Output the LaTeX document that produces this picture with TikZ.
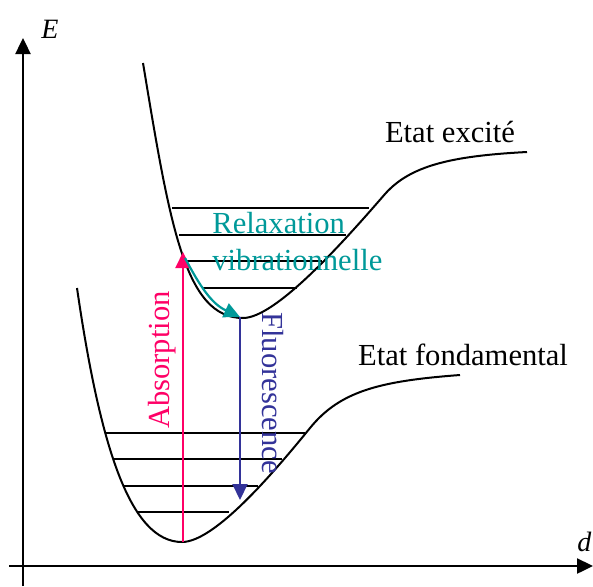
\documentclass[tikz,border=0pt]{standalone}
\usepackage{fontspec}
\setmainfont{Liberation Serif}
\usetikzlibrary{arrows.meta}
\definecolor{absorbcol}{HTML}{FF0066}
\definecolor{fluocol}{HTML}{333399}
\definecolor{relaxcol}{HTML}{009999}
\newcommand{\excitedwell}{\draw[line width=1pt] (143,523) .. controls (170,360) and (185,268) .. (243,268) .. controls (275,268) and (340,340) .. (385,392) .. controls (410,420) and (450,430) .. (527,434);}
\newcommand{\groundwell}{\draw[line width=1pt] (77,298) .. controls (100,140) and (130,44) .. (182,44) .. controls (215,44) and (275,115) .. (310,158) .. controls (340,195) and (380,205) .. (460,211);}

\begin{document}
\begin{tikzpicture}[x=.5pt,y=.5pt,>={Triangle[length=8pt,width=7.5pt]},
  big/.style={font=\fontsize{15.3}{18}\selectfont,inner sep=0pt}]
\useasboundingbox (0,0) rectangle (593,586);
\coordinate (O1) at (23,0);\coordinate (Etop) at (23,548);
\coordinate (O2) at (9,20);\coordinate (dend) at (593,20);
\draw[line width=1.2pt,->] (O1)--(Etop);
\draw[line width=1.2pt,->] (O2)--(dend);
\node[inner sep=0pt] (E) at (50,557) {\fontsize{14}{16}\selectfont\textit{E}};
\node[inner sep=0pt,anchor=west] (d) at (577,44) {\fontsize{14}{16}\selectfont\textit{d}};
\excitedwell
\groundwell
\draw[line width=1pt] (172,378)--(369,378);
\draw[line width=1pt] (179,351)--(346,351);
\draw[line width=1pt] (185,325)--(322,325);
\draw[line width=1pt] (202,298)--(297,298);
\draw[line width=1pt] (105,153)--(305,153);
\draw[line width=1pt] (113,127)--(282,127);
\draw[line width=1pt] (123,100)--(258,100);
\draw[line width=1pt] (137,74)--(229,74);
\coordinate (g0) at (183,44);\coordinate (e2) at (183,334);
\coordinate (r0) at (185,328);\coordinate (e0) at (240,269);
\coordinate (g2) at (240,86);
\draw[absorbcol,line width=1pt,->] (g0)--(e2);
\draw[relaxcol,line width=1.1pt,->] (r0) to[out=-62,in=155] (e0);
\draw[fluocol,line width=1pt,->] (e0)--(g2);
\node[big,anchor=base west,text=relaxcol] (relax) at (212,353) {Relaxation};
\node[big,anchor=base west,text=relaxcol] (vib) at (212,316) {vibrationnelle};
\node[big,anchor=base,rotate=90,text=absorbcol] (abs) at (169,226) {Absorption};
\node[big,anchor=base,rotate=-90,text=fluocol] (fluo) at (262,193) {Fluorescence};
\node[big,anchor=base] (exc) at (450,444) {Etat excité};
\node[big,anchor=base] (fond) at (463,221) {Etat fondamental};
\end{tikzpicture}
\end{document}
